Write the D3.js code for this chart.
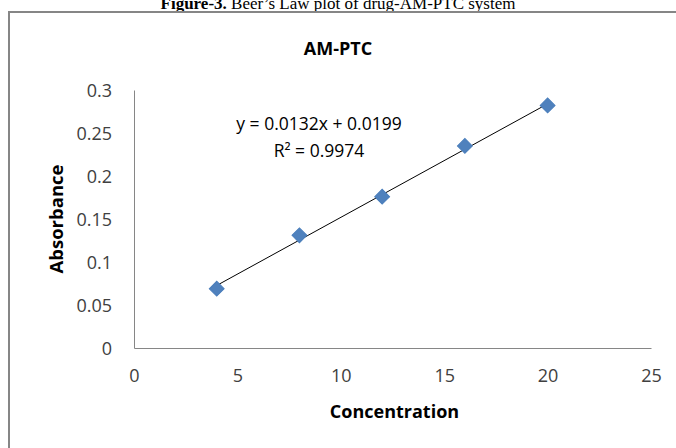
<!DOCTYPE html>
<html>
<head>
<meta charset="utf-8">
<script src="https://cdn.jsdelivr.net/npm/d3@7"></script>
<style>
  body { margin: 0; background: #fff; }
  svg text { font-family: "Open Sans", "DejaVu Sans", sans-serif; }
</style>
</head>
<body>
<div id="plotDiv"></div>
<script>
// data
var concentration = [4, 8, 12, 16, 20];
var absorbance = [0.069, 0.131, 0.176, 0.235, 0.282];
var xTicks = [0, 5, 10, 15, 20, 25];
var yTicks = [0, 0.05, 0.1, 0.15, 0.2, 0.25, 0.3];
var fitSlope = 0.0132;
var fitIntercept = 0.0199;
var fitRange = [4, 20];

var W = 676, H = 448;
var margin = { top: 90, right: 25, bottom: 100, left: 134 };
var width = W - margin.left - margin.right;
var height = H - margin.top - margin.bottom;

var svg = d3.select("#plotDiv").append("svg")
    .attr("width", W)
    .attr("height", H);

// caption above the chart, clipped at the top edge like the source
var cap = svg.append("text").attr("x", 338).attr("y", 9)
    .attr("text-anchor", "middle")
    .style("font-family", "'Liberation Serif', 'Times New Roman', serif")
    .style("font-size", "17px").attr("fill", "#000");
cap.append("tspan").style("font-weight", "bold").text("Figure-3.");
cap.append("tspan").text(" Beer\u2019s Law plot of drug-AM-PTC system");

// chart frame (left and top edges visible)
svg.append("path")
    .attr("d", "M9,448 V12 H676")
    .attr("fill", "none").attr("stroke", "#868686").attr("stroke-width", 2);

svg.append("text").attr("x", 338).attr("y", 55)
    .attr("text-anchor", "middle")
    .style("font-size", "18px").style("font-weight", "bold")
    .attr("fill", "#000").text("AM-PTC");

var g = svg.append("g").attr("transform", "translate(" + margin.left + "," + margin.top + ")");

var xScale = d3.scaleLinear().domain([0, 25]).range([0, width]);
var yScale = d3.scaleLinear().domain([0, 0.3]).range([height, 0]);

var xAxis = d3.axisBottom(xScale).tickValues(xTicks).tickSize(0).tickPadding(21)
    .tickFormat(d3.format("d"));
var yAxis = d3.axisLeft(yScale).tickValues(yTicks).tickSize(0).tickPadding(22)
    .tickFormat(function (d) { return d === 0 ? "0" : String(+d.toFixed(2)); });

var gx = g.append("g").attr("transform", "translate(0," + height + ")").call(xAxis);
var gy = g.append("g").call(yAxis);

[gx, gy].forEach(function (a) {
    a.select(".domain").attr("stroke", "#868686").attr("stroke-width", 1);
    a.selectAll("text").style("font-size", "18px").attr("fill", "#404040")
        .style("font-family", "'Open Sans', sans-serif");
});
gy.selectAll("text").attr("dy", "0.35em");

// axis titles
svg.append("text").attr("x", margin.left + width / 2 + 2).attr("y", 418)
    .attr("text-anchor", "middle")
    .style("font-size", "18px").style("font-weight", "bold")
    .attr("fill", "#000").text("Concentration");

svg.append("text")
    .attr("transform", "translate(63," + (margin.top + height / 2) + ") rotate(-90)")
    .attr("text-anchor", "middle")
    .style("font-size", "18.5px").style("font-weight", "bold")
    .attr("fill", "#000").text("Absorbance");

// linear trendline
g.append("line")
    .attr("x1", xScale(fitRange[0])).attr("y1", yScale(fitSlope * fitRange[0] + fitIntercept))
    .attr("x2", xScale(fitRange[1])).attr("y2", yScale(fitSlope * fitRange[1] + fitIntercept))
    .attr("stroke", "#000").attr("stroke-width", 1);

// diamond markers
var diamond = d3.symbol().type(d3.symbolSquare).size(110);
g.selectAll("path.pt").data(concentration).enter().append("path")
    .attr("class", "pt")
    .attr("d", diamond)
    .attr("transform", function (d, i) {
        return "translate(" + xScale(d) + "," + yScale(absorbance[i]) + ") rotate(45)";
    })
    .attr("fill", "#4F81BD").attr("stroke", "#4A7EBB").attr("stroke-width", 1);

// equation label
var eq = svg.append("text").attr("text-anchor", "middle")
    .style("font-size", "17.5px").attr("fill", "#000");
eq.append("tspan").attr("x", 319).attr("y", 130)
    .text("y = " + fitSlope + "x + " + fitIntercept);
eq.append("tspan").attr("x", 319).attr("y", 157).text("R\u00b2 = 0.9974");
</script>
</body>
</html>
